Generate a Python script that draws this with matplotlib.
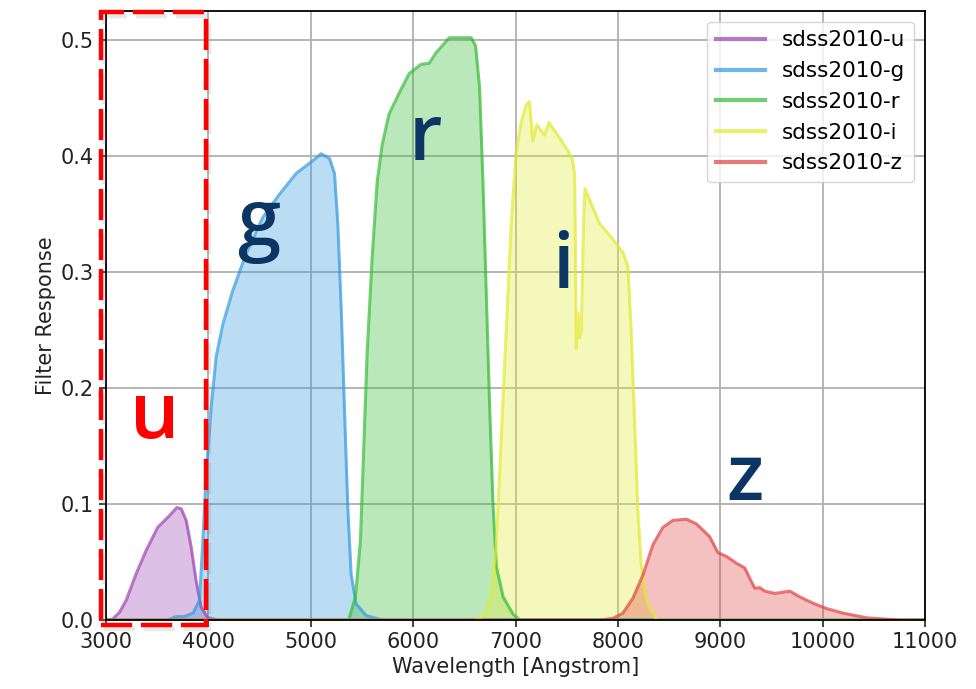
import numpy as np
import matplotlib
matplotlib.use("Agg")
import matplotlib.pyplot as plt
import matplotlib.patheffects as pe
from matplotlib.patches import Rectangle

# filter curves (wavelength in Angstrom, response)
u_wave = [3000, 3066, 3132, 3197, 3295, 3392, 3506, 3620, 3692, 3734, 3783, 3832, 3880, 3930, 3994, 4100, 11000]
u_resp = [0.0, 0.001, 0.0067, 0.017, 0.040, 0.060, 0.080, 0.090, 0.097, 0.096, 0.086, 0.063, 0.034, 0.011, 0.002, 0.0, 0.0]

g_wave = [3000, 3600, 3680, 3760, 3850, 3913, 3946, 3978, 4027, 4076, 4141, 4238, 4369, 4531, 4694,
          4857, 5020, 5101, 5183, 5232, 5264, 5297, 5329, 5362, 5394, 5443, 5541, 5700, 11000]
g_resp = [0.0, 0.0, 0.003, 0.003, 0.006, 0.017, 0.068, 0.126, 0.183, 0.227, 0.255, 0.284, 0.316, 0.347, 0.367,
          0.385, 0.396, 0.402, 0.398, 0.385, 0.342, 0.270, 0.183, 0.097, 0.040, 0.014, 0.004, 0.0, 0.0]

r_wave = [3000, 5370, 5436, 5485, 5518, 5551, 5600, 5649, 5698, 5764, 5862, 5961, 6075, 6157, 6223, 6354,
          6485, 6567, 6610, 6649, 6682, 6715, 6748, 6780, 6813, 6879, 6977, 7043, 11000]
r_resp = [0.0, 0.0, 0.020, 0.068, 0.150, 0.231, 0.313, 0.378, 0.410, 0.436, 0.454, 0.471, 0.479, 0.480, 0.489, 0.502,
          0.502, 0.502, 0.495, 0.459, 0.378, 0.280, 0.182, 0.101, 0.046, 0.020, 0.005, 0.0, 0.0]

i_wave = [3000, 6600, 6700, 6760, 6811, 6860, 6909, 6958, 7007, 7055, 7104, 7137, 7169, 7208, 7283, 7326, 7397,
          7495, 7554, 7577, 7586, 7593, 7609, 7625, 7642, 7664, 7678, 7739, 7821, 7935, 8049, 8098, 8130,
          8163, 8195, 8228, 8277, 8375, 11000]
i_resp = [0.0, 0.0, 0.004, 0.020, 0.063, 0.156, 0.249, 0.342, 0.404, 0.429, 0.444, 0.447, 0.413, 0.427, 0.418, 0.429, 0.420,
          0.407, 0.398, 0.385, 0.311, 0.234, 0.265, 0.243, 0.249, 0.342, 0.372, 0.359, 0.342, 0.330, 0.317, 0.305, 0.249,
          0.172, 0.094, 0.048, 0.017, 0.0, 0.0]

z_wave = [3000, 7821, 7951, 8049, 8147, 8245, 8342, 8440, 8538, 8668, 8766, 8896, 8978, 9060, 9158, 9239, 9288,
          9337, 9386, 9435, 9533, 9679, 9777, 9908, 10038, 10201, 10429, 10755, 11000]
z_resp = [0.0, 0.0, 0.0015, 0.006, 0.019, 0.039, 0.065, 0.080, 0.086, 0.087, 0.083, 0.072, 0.058, 0.055, 0.049, 0.045, 0.036,
          0.0275, 0.028, 0.025, 0.023, 0.025, 0.020, 0.0145, 0.010, 0.006, 0.002, 0.0, 0.0]

names = ["sdss2010-u", "sdss2010-g", "sdss2010-r", "sdss2010-i", "sdss2010-z"]
colors = ["#9a40b0", "#3399e0", "#33bb33", "#e0eb30", "#e04040"]
curves = [(u_wave, u_resp), (g_wave, g_resp), (r_wave, r_resp), (i_wave, i_resp), (z_wave, z_resp)]

fig = plt.figure(figsize=(9.76, 6.89), dpi=100)
ax = fig.add_axes([0.1086, 0.100, 0.8392, 0.884])

for (w, r), name, c in zip(curves, names, colors):
    ax.plot(w, r, color=c, alpha=0.7, lw=2.2, label=name)
    ax.fill_between(w, r, 0, color=c, alpha=0.33, lw=0)

ax.set_xlim(3000, 11000)
ax.set_ylim(0, 0.525)
ax.set_xticks(np.arange(3000, 11001, 1000))
ax.set_yticks(np.arange(0, 0.51, 0.1))
ax.yaxis.set_major_formatter(matplotlib.ticker.FormatStrFormatter("%.1f"))
ax.grid(True, color="#b0b0b0", lw=1.3)
ax.set_axisbelow(True)
ax.tick_params(labelsize=15, length=5, width=1.2, colors="#222222")
for s in ax.spines.values():
    s.set_linewidth(1.3)
ax.set_xlabel("Wavelength [Angstrom]", fontsize=15, color="#222222")
ax.set_ylabel("Filter Response", fontsize=15, color="#222222")

leg = ax.legend(loc="upper right", fontsize=15.5, handlelength=2.3)
for line in leg.get_lines():
    line.set_linewidth(3)

# red dashed box around the u band
box = Rectangle((101 / 976, 1 - 625 / 689), 105 / 976, 613 / 689, transform=fig.transFigure,
                fill=False, edgecolor="#ff0000", lw=3.2, linestyle=(0, (7, 2)), zorder=10)
box.set_path_effects([pe.SimpleLineShadow(offset=(2, -3), shadow_color="gray", alpha=0.18), pe.Normal()])
fig.add_artist(box)

# big band letters
letter_font = dict(family="Open Sans", fontsize=56, fontweight="semibold", ha="center", va="baseline")
fig.text(155 / 976, 1 - 438 / 689, "u", color="#ff0000", **letter_font)
for ch, px, py in [("g", 259, 245), ("r", 425, 160), ("i", 563, 288), ("z", 745, 500)]:
    fig.text(px / 976, 1 - py / 689, ch, color="#0b3563", **letter_font)

fig.savefig("out.png", dpi=100)
